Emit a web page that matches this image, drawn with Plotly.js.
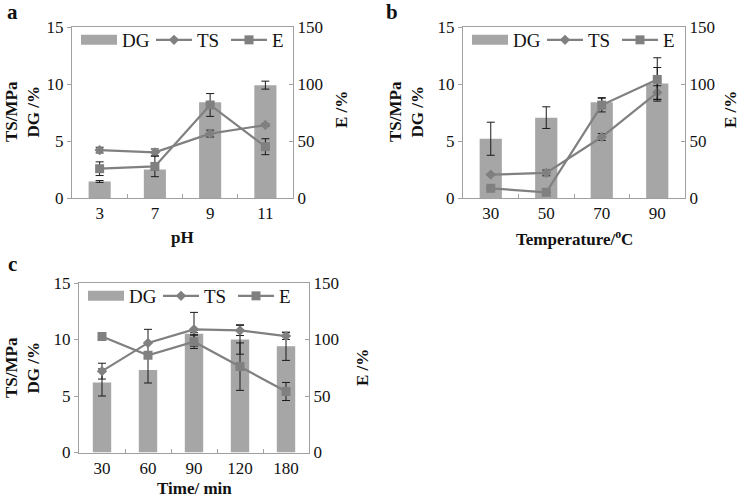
<!DOCTYPE html>
<html>
<head>
<meta charset="utf-8">
<script src="https://cdn.plot.ly/plotly-3.0.1.min.js"></script>
<style>html,body{margin:0;padding:0;background:#fff;}#chart{width:742px;height:498px;}</style>
</head>
<body>
<div id="chart"></div>
<script>
// ---- Data ----
const catsA = ['3', '7', '9', '11'];
const dgA = [1.45, 2.5, 8.4, 9.9];
const dgErrA = [0.08, 0.05, 0.05, 0.35];
const tsA = [4.2, 4.0, 5.65, 6.4];
const tsErrA = [0.25, 0.3, 0.3, 0.1];
const eA = [25.7, 27.7, 81.6, 45];
const eErrA = [6, 9, 10, 7];

const catsB = ['30', '50', '70', '90'];
const dgB = [5.2, 7.05, 8.4, 10.05];
const dgErrB = [1.45, 0.95, 0.4, 1.4];
const tsB = [2.05, 2.2, 5.35, 9.25];
const tsErrB = [0.05, 0.25, 0.3, 0.6];
const eB = [8.5, 5.0, 81.5, 104];
const eErrB = [0, 0, 6, 19];

const catsC = ['30', '60', '90', '120', '180'];
const dgC = [6.2, 7.3, 10.5, 10.0, 9.4];
const dgErrC = [1.2, 1.15, 0.1, 1.3, 1.25];
const tsC = [7.2, 9.7, 10.9, 10.8, 10.3];
const tsErrC = [0.7, 1.2, 1.5, 0.45, 0.3];
const eC = [102.7, 86, 98, 76, 54];
const eErrC = [0, 2, 6, 21, 8];

const yTicksLeft = [0, 5, 10, 15];
const yTicksRight = [0, 50, 100, 150];

// ---- Style ----
const W = 742, H = 498;
const FONT = '"Liberation Serif", "Times New Roman", serif';
const barColor = '#a6a6a6';
const lineColor = '#808080';
const axisColor = '#a0a0a0';
const errColor = '#1a1a1a';
const px = x => x / W;
const py = y => 1 - y / H;

const panels = [
  {cats: catsA, dg: dgA, dgE: dgErrA, ts: tsA, tsE: tsErrA, e: eA, eE: eErrA,
   box: [72, 293, 27, 198], legend: 'legend'},
  {cats: catsB, dg: dgB, dgE: dgErrB, ts: tsB, tsE: tsErrB, e: eB, eE: eErrB,
   box: [463, 685, 27, 198], legend: 'legend2'},
  {cats: catsC, dg: dgC, dgE: dgErrC, ts: tsC, tsE: tsErrC, e: eC, eE: eErrC,
   box: [79, 309, 283, 452.5], legend: 'legend3'}
];

const traces = [];
const layout = {
  width: W, height: H,
  margin: {l: 0, r: 0, t: 0, b: 0, autoexpand: false},
  paper_bgcolor: '#fff', plot_bgcolor: '#fff',
  font: {family: FONT, size: 17, color: '#111'},
  bargap: 0.6,
  showlegend: true,
  annotations: []
};

panels.forEach((p, i) => {
  const xa = i === 0 ? 'x' : 'x' + (i + 1);
  const yl = i === 0 ? 'y' : 'y' + (2 * i + 1);
  const yr = 'y' + (2 * i + 2);
  const xKey = i === 0 ? 'xaxis' : 'xaxis' + (i + 1);
  const ylKey = i === 0 ? 'yaxis' : 'yaxis' + (2 * i + 1);
  const yrKey = 'yaxis' + (2 * i + 2);
  const [x0, x1, y0, y1] = p.box;

  traces.push({
    type: 'bar', x: p.cats, y: p.dg, xaxis: xa, yaxis: yl, name: 'DG',
    marker: {color: barColor}, showlegend: false, legend: p.legend,
    error_y: {type: 'data', array: p.dgE, visible: true, color: errColor, thickness: 1, width: 4}
  });
  // legend entry for DG (wide swatch like the original)
  traces.push({
    type: 'scatter', mode: 'lines', x: [p.cats[0]], y: [null], xaxis: xa, yaxis: yl, name: 'DG',
    line: {color: barColor, width: 10}, legend: p.legend, hoverinfo: 'skip'
  });
  traces.push({
    type: 'scatter', mode: 'lines+markers', x: p.cats, y: p.ts, xaxis: xa, yaxis: yl, name: 'TS',
    line: {color: lineColor, width: 2.2}, marker: {symbol: 'diamond', size: 8, color: lineColor},
    legend: p.legend,
    error_y: {type: 'data', array: p.tsE, visible: true, color: errColor, thickness: 1, width: 4}
  });
  traces.push({
    type: 'scatter', mode: 'lines+markers', x: p.cats, y: p.e, xaxis: xa, yaxis: yr, name: 'E',
    line: {color: lineColor, width: 2.2}, marker: {symbol: 'square', size: 9, color: lineColor},
    legend: p.legend,
    error_y: {type: 'data', array: p.eE, visible: true, color: errColor, thickness: 1, width: 4}
  });

  layout[xKey] = {
    domain: [px(x0), px(x1)], anchor: yl, type: 'category',
    showline: true, linecolor: axisColor, linewidth: 1, mirror: true,
    ticks: 'inside', tickson: 'boundaries', ticklen: 4, tickcolor: axisColor,
    tickfont: {family: FONT, size: 17, color: '#111'}, showgrid: false, zeroline: false,
    fixedrange: true, automargin: false
  };
  layout[ylKey] = {
    domain: [py(y1), py(y0)], anchor: xa, range: [0, 15],
    tickvals: yTicksLeft, ticks: 'outside', ticklen: 4, tickcolor: axisColor,
    showline: true, linecolor: axisColor, linewidth: 1, showgrid: false, zeroline: false,
    tickfont: {family: FONT, size: 17, color: '#111'}, automargin: false
  };
  layout[yrKey] = {
    overlaying: yl, side: 'right', anchor: xa, range: [0, 150],
    tickvals: yTicksRight, ticks: 'inside', ticklen: 4, tickcolor: axisColor,
    showline: true, linecolor: axisColor, linewidth: 1, showgrid: false, zeroline: false,
    tickfont: {family: FONT, size: 17, color: '#111'}, automargin: false
  };
  layout[p.legend] = {
    x: px(x0 + 4), y: py(y0 + 13), xanchor: 'left', yanchor: 'middle',
    orientation: 'h', bgcolor: 'rgba(0,0,0,0)', itemwidth: 36,
    entrywidth: 24, entrywidthmode: 'pixels',
    font: {family: FONT, size: 19, color: '#111'}, traceorder: 'normal'
  };
});

// Titles and panel letters
const ann = (text, x, y, opts = {}) => Object.assign({
  text, x: px(x), y: py(y), xref: 'paper', yref: 'paper', showarrow: false,
  xanchor: 'center', yanchor: 'middle', font: {family: FONT, size: 17, color: '#111'}
}, opts);
const bold = s => '<b>' + s + '</b>';
layout.annotations.push(
  ann(bold('a'), 12, 12, {font: {family: FONT, size: 21, color: '#111'}}),
  ann(bold('b'), 392, 12, {font: {family: FONT, size: 21, color: '#111'}}),
  ann(bold('c'), 12, 264, {font: {family: FONT, size: 21, color: '#111'}}),
  ann(bold('TS/MPa<br>DG /%'), 22, 112, {textangle: -90}),
  ann(bold('TS/MPa<br>DG /%'), 406, 112, {textangle: -90}),
  ann(bold('TS/MPa<br>DG /%'), 22, 368, {textangle: -90}),
  ann(bold('E /%'), 342, 110, {textangle: -90}),
  ann(bold('E /%'), 731, 110, {textangle: -90}),
  ann(bold('E /%'), 362, 368, {textangle: -90}),
  ann(bold('pH'), 182, 238),
  ann(bold('Temperature/<sup>o</sup>C'), 574, 238),
  ann(bold('Time/ min'), 194, 488)
);

Plotly.newPlot('chart', traces, layout, {staticPlot: true, displayModeBar: false});
</script>
</body>
</html>
